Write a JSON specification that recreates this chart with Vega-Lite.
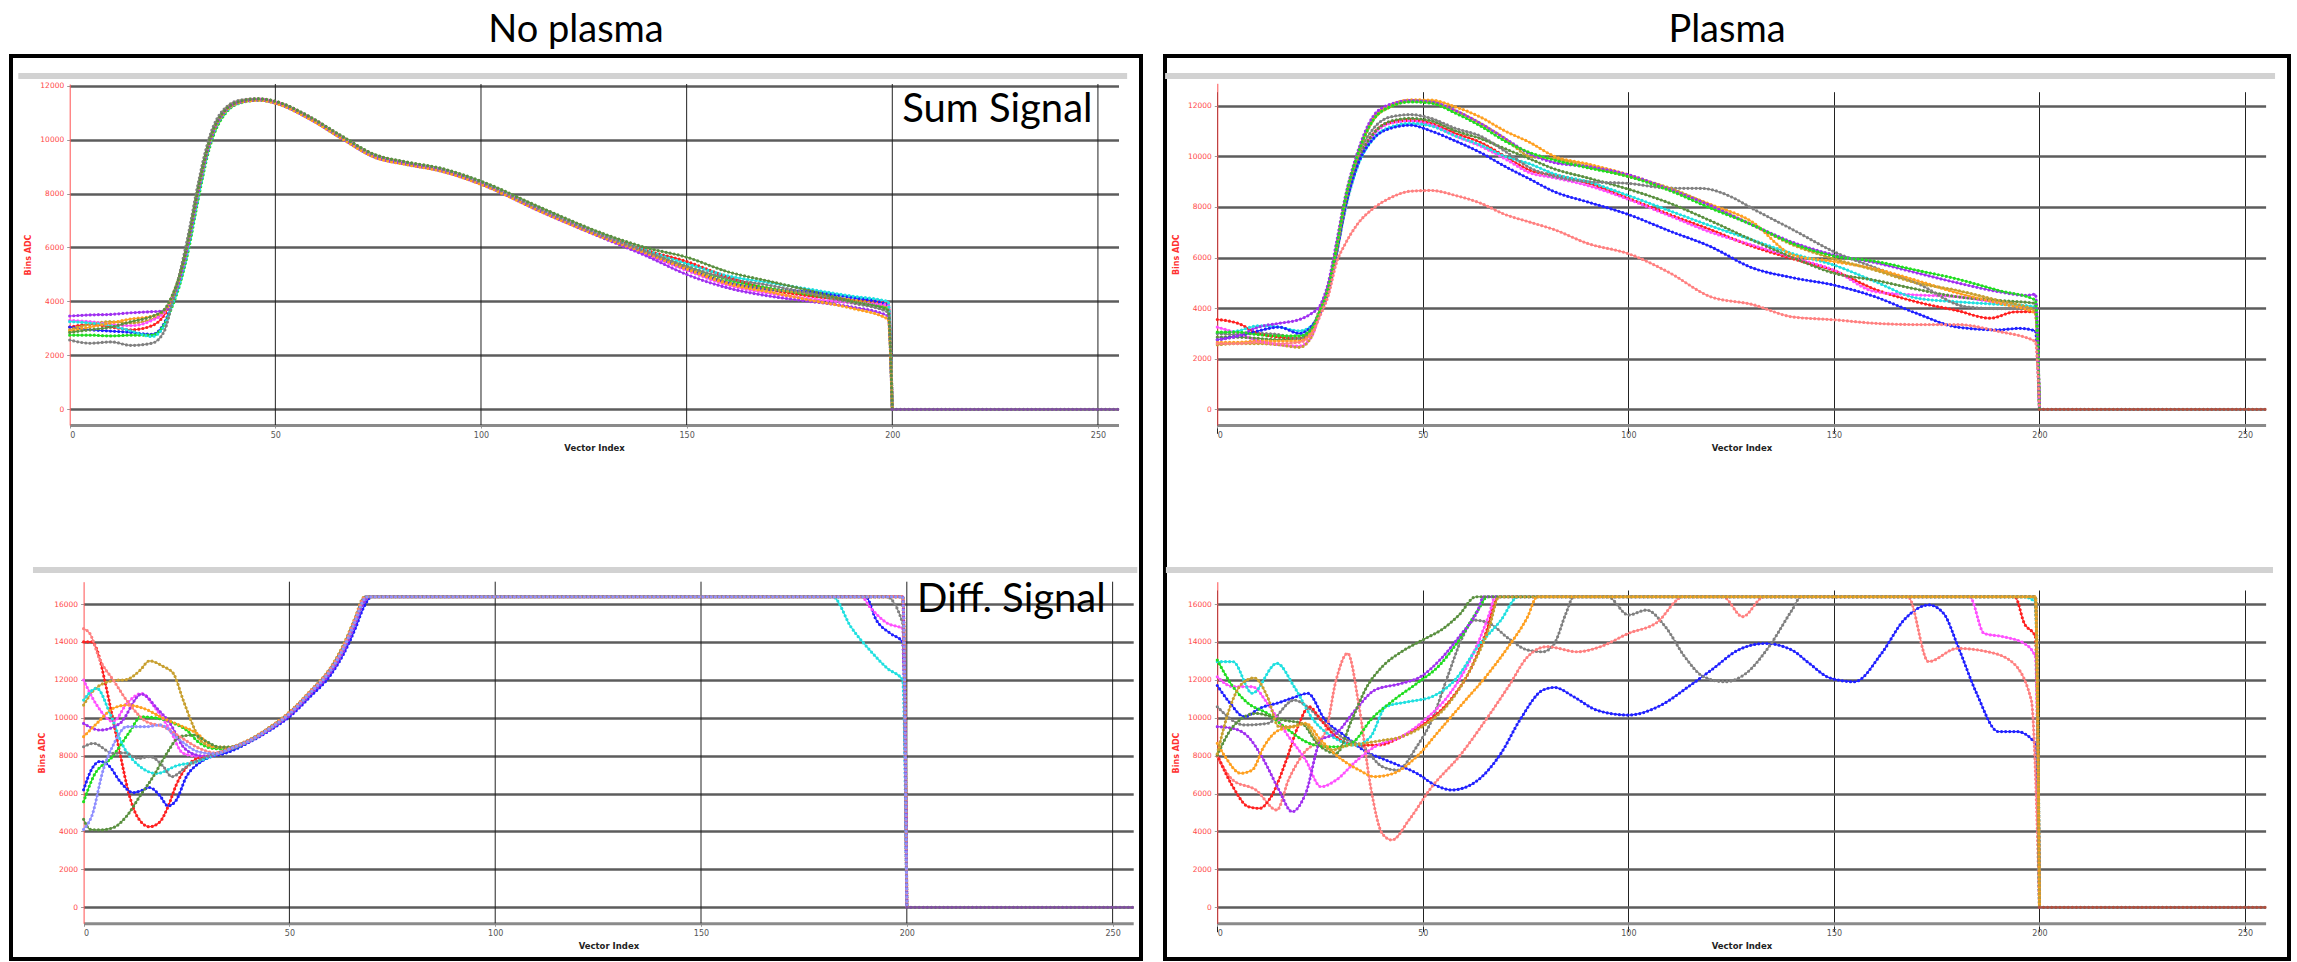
{
"$schema":"https://vega.github.io/schema/vega-lite/v6.json",
"background":"white",
"padding":{"left":9,"top":10,"right":4,"bottom":0},
"config":{"view":{"stroke":null},"font":"Lato","axis":{"labelFont":"DejaVu Sans","titleFont":"DejaVu Sans"}},
"datasets":{
"TL":[
{"s":"r","x":0,"y":3050},{"s":"r","x":5,"y":3150},{"s":"r","x":10,"y":3050},{"s":"r","x":15,"y":2950},{"s":"r","x":20,"y":3100},{"s":"r","x":23,"y":3500},{"s":"r","x":25,"y":4100},{"s":"r","x":27,"y":5000},{"s":"r","x":29,"y":6300},{"s":"r","x":31,"y":7900},{"s":"r","x":34,"y":9900},{"s":"r","x":38,"y":11100},{"s":"r","x":42,"y":11420},{"s":"r","x":46,"y":11480},{"s":"r","x":50,"y":11380},{"s":"r","x":58,"y":10830},{"s":"r","x":66,"y":10090},{"s":"r","x":74,"y":9400},{"s":"r","x":82,"y":9110},{"s":"r","x":90,"y":8890},{"s":"r","x":100,"y":8390},{"s":"r","x":115,"y":7370},{"s":"r","x":130,"y":6420},{"s":"r","x":140,"y":5900},{"s":"r","x":150,"y":5480},{"s":"r","x":160,"y":4900},{"s":"r","x":170,"y":4450},{"s":"r","x":180,"y":4200},{"s":"r","x":190,"y":4050},{"s":"r","x":199,"y":3930},{"s":"r","x":200,"y":0},
{"s":"b","x":0,"y":3050},{"s":"b","x":5,"y":2950},{"s":"b","x":10,"y":2900},{"s":"b","x":15,"y":2850},{"s":"b","x":20,"y":2780},{"s":"b","x":23,"y":3200},{"s":"b","x":25,"y":3950},{"s":"b","x":27,"y":4850},{"s":"b","x":29,"y":6150},{"s":"b","x":31,"y":7750},{"s":"b","x":34,"y":9800},{"s":"b","x":38,"y":11050},{"s":"b","x":42,"y":11400},{"s":"b","x":46,"y":11470},{"s":"b","x":50,"y":11370},{"s":"b","x":58,"y":10820},{"s":"b","x":66,"y":10080},{"s":"b","x":74,"y":9380},{"s":"b","x":82,"y":9100},{"s":"b","x":90,"y":8870},{"s":"b","x":100,"y":8370},{"s":"b","x":115,"y":7330},{"s":"b","x":130,"y":6380},{"s":"b","x":140,"y":5800},{"s":"b","x":150,"y":5200},{"s":"b","x":160,"y":4700},{"s":"b","x":170,"y":4450},{"s":"b","x":180,"y":4350},{"s":"b","x":190,"y":4150},{"s":"b","x":199,"y":3870},{"s":"b","x":200,"y":0},
{"s":"g","x":0,"y":2750},{"s":"g","x":5,"y":2750},{"s":"g","x":10,"y":2720},{"s":"g","x":15,"y":2750},{"s":"g","x":20,"y":2750},{"s":"g","x":23,"y":3150},{"s":"g","x":25,"y":3850},{"s":"g","x":27,"y":4750},{"s":"g","x":29,"y":6000},{"s":"g","x":31,"y":7600},{"s":"g","x":34,"y":9700},{"s":"g","x":38,"y":11000},{"s":"g","x":42,"y":11380},{"s":"g","x":46,"y":11460},{"s":"g","x":50,"y":11360},{"s":"g","x":58,"y":10810},{"s":"g","x":66,"y":10070},{"s":"g","x":74,"y":9370},{"s":"g","x":82,"y":9090},{"s":"g","x":90,"y":8860},{"s":"g","x":100,"y":8380},{"s":"g","x":115,"y":7350},{"s":"g","x":130,"y":6400},{"s":"g","x":140,"y":5850},{"s":"g","x":150,"y":5300},{"s":"g","x":160,"y":4800},{"s":"g","x":170,"y":4500},{"s":"g","x":180,"y":4250},{"s":"g","x":190,"y":4000},{"s":"g","x":199,"y":3740},{"s":"g","x":200,"y":0},
{"s":"o","x":0,"y":2950},{"s":"o","x":5,"y":3150},{"s":"o","x":10,"y":3250},{"s":"o","x":15,"y":3200},{"s":"o","x":20,"y":3350},{"s":"o","x":23,"y":3600},{"s":"o","x":25,"y":4200},{"s":"o","x":27,"y":5150},{"s":"o","x":29,"y":6450},{"s":"o","x":31,"y":8050},{"s":"o","x":34,"y":10000},{"s":"o","x":38,"y":11150},{"s":"o","x":42,"y":11450},{"s":"o","x":46,"y":11500},{"s":"o","x":50,"y":11400},{"s":"o","x":58,"y":10850},{"s":"o","x":66,"y":10110},{"s":"o","x":74,"y":9420},{"s":"o","x":82,"y":9130},{"s":"o","x":90,"y":8910},{"s":"o","x":100,"y":8410},{"s":"o","x":115,"y":7380},{"s":"o","x":130,"y":6430},{"s":"o","x":140,"y":5800},{"s":"o","x":150,"y":5250},{"s":"o","x":160,"y":4700},{"s":"o","x":170,"y":4450},{"s":"o","x":180,"y":4300},{"s":"o","x":190,"y":4050},{"s":"o","x":199,"y":3800},{"s":"o","x":200,"y":0},
{"s":"m","x":0,"y":3300},{"s":"m","x":5,"y":3250},{"s":"m","x":10,"y":3150},{"s":"m","x":15,"y":3100},{"s":"m","x":20,"y":3300},{"s":"m","x":23,"y":3600},{"s":"m","x":25,"y":4150},{"s":"m","x":27,"y":5050},{"s":"m","x":29,"y":6350},{"s":"m","x":31,"y":7950},{"s":"m","x":34,"y":9950},{"s":"m","x":38,"y":11100},{"s":"m","x":42,"y":11420},{"s":"m","x":46,"y":11490},{"s":"m","x":50,"y":11390},{"s":"m","x":58,"y":10840},{"s":"m","x":66,"y":10100},{"s":"m","x":74,"y":9400},{"s":"m","x":82,"y":9110},{"s":"m","x":90,"y":8890},{"s":"m","x":100,"y":8390},{"s":"m","x":115,"y":7350},{"s":"m","x":130,"y":6390},{"s":"m","x":140,"y":5750},{"s":"m","x":150,"y":5150},{"s":"m","x":160,"y":4600},{"s":"m","x":170,"y":4300},{"s":"m","x":180,"y":4100},{"s":"m","x":190,"y":3950},{"s":"m","x":199,"y":3870},{"s":"m","x":200,"y":0},
{"s":"c","x":0,"y":3250},{"s":"c","x":5,"y":3200},{"s":"c","x":10,"y":3100},{"s":"c","x":15,"y":2900},{"s":"c","x":20,"y":2700},{"s":"c","x":23,"y":3100},{"s":"c","x":25,"y":3900},{"s":"c","x":27,"y":4800},{"s":"c","x":29,"y":6100},{"s":"c","x":31,"y":7700},{"s":"c","x":34,"y":9800},{"s":"c","x":38,"y":11050},{"s":"c","x":42,"y":11400},{"s":"c","x":46,"y":11480},{"s":"c","x":50,"y":11380},{"s":"c","x":58,"y":10830},{"s":"c","x":66,"y":10100},{"s":"c","x":74,"y":9420},{"s":"c","x":82,"y":9140},{"s":"c","x":90,"y":8920},{"s":"c","x":100,"y":8430},{"s":"c","x":115,"y":7400},{"s":"c","x":130,"y":6450},{"s":"c","x":140,"y":5900},{"s":"c","x":150,"y":5400},{"s":"c","x":160,"y":4950},{"s":"c","x":170,"y":4700},{"s":"c","x":180,"y":4450},{"s":"c","x":190,"y":4200},{"s":"c","x":199,"y":3990},{"s":"c","x":200,"y":0},
{"s":"p","x":0,"y":3460},{"s":"p","x":5,"y":3500},{"s":"p","x":10,"y":3520},{"s":"p","x":15,"y":3580},{"s":"p","x":20,"y":3620},{"s":"p","x":23,"y":3650},{"s":"p","x":25,"y":4050},{"s":"p","x":27,"y":4950},{"s":"p","x":29,"y":6250},{"s":"p","x":31,"y":7850},{"s":"p","x":34,"y":9850},{"s":"p","x":38,"y":11080},{"s":"p","x":42,"y":11410},{"s":"p","x":46,"y":11470},{"s":"p","x":50,"y":11360},{"s":"p","x":58,"y":10800},{"s":"p","x":66,"y":10060},{"s":"p","x":74,"y":9360},{"s":"p","x":82,"y":9080},{"s":"p","x":90,"y":8850},{"s":"p","x":100,"y":8350},{"s":"p","x":115,"y":7300},{"s":"p","x":130,"y":6330},{"s":"p","x":140,"y":5700},{"s":"p","x":150,"y":5000},{"s":"p","x":160,"y":4500},{"s":"p","x":170,"y":4200},{"s":"p","x":180,"y":4000},{"s":"p","x":190,"y":3800},{"s":"p","x":199,"y":3460},{"s":"p","x":200,"y":0},
{"s":"a","x":0,"y":2900},{"s":"a","x":5,"y":3050},{"s":"a","x":10,"y":3200},{"s":"a","x":15,"y":3350},{"s":"a","x":20,"y":3450},{"s":"a","x":23,"y":3650},{"s":"a","x":25,"y":4150},{"s":"a","x":27,"y":5050},{"s":"a","x":29,"y":6350},{"s":"a","x":31,"y":7950},{"s":"a","x":34,"y":9900},{"s":"a","x":38,"y":11080},{"s":"a","x":42,"y":11400},{"s":"a","x":46,"y":11460},{"s":"a","x":50,"y":11350},{"s":"a","x":58,"y":10790},{"s":"a","x":66,"y":10050},{"s":"a","x":74,"y":9350},{"s":"a","x":82,"y":9070},{"s":"a","x":90,"y":8840},{"s":"a","x":100,"y":8340},{"s":"a","x":115,"y":7300},{"s":"a","x":130,"y":6350},{"s":"a","x":140,"y":5800},{"s":"a","x":150,"y":5200},{"s":"a","x":160,"y":4650},{"s":"a","x":170,"y":4350},{"s":"a","x":180,"y":4050},{"s":"a","x":190,"y":3750},{"s":"a","x":199,"y":3340},{"s":"a","x":200,"y":0},
{"s":"k","x":0,"y":2570},{"s":"k","x":5,"y":2450},{"s":"k","x":10,"y":2500},{"s":"k","x":15,"y":2370},{"s":"k","x":20,"y":2450},{"s":"k","x":23,"y":2900},{"s":"k","x":25,"y":4000},{"s":"k","x":27,"y":5200},{"s":"k","x":29,"y":6600},{"s":"k","x":31,"y":8200},{"s":"k","x":34,"y":10100},{"s":"k","x":38,"y":11200},{"s":"k","x":42,"y":11480},{"s":"k","x":46,"y":11520},{"s":"k","x":50,"y":11420},{"s":"k","x":58,"y":10870},{"s":"k","x":66,"y":10130},{"s":"k","x":74,"y":9440},{"s":"k","x":82,"y":9150},{"s":"k","x":90,"y":8930},{"s":"k","x":100,"y":8420},{"s":"k","x":115,"y":7380},{"s":"k","x":130,"y":6420},{"s":"k","x":140,"y":5850},{"s":"k","x":150,"y":5300},{"s":"k","x":160,"y":4850},{"s":"k","x":170,"y":4600},{"s":"k","x":180,"y":4300},{"s":"k","x":190,"y":3950},{"s":"k","x":199,"y":3600},{"s":"k","x":200,"y":0},
{"s":"d","x":0,"y":2850},{"s":"d","x":5,"y":2950},{"s":"d","x":10,"y":3050},{"s":"d","x":15,"y":3250},{"s":"d","x":20,"y":3450},{"s":"d","x":23,"y":3700},{"s":"d","x":25,"y":4250},{"s":"d","x":27,"y":5100},{"s":"d","x":29,"y":6400},{"s":"d","x":31,"y":8000},{"s":"d","x":34,"y":9950},{"s":"d","x":38,"y":11120},{"s":"d","x":42,"y":11440},{"s":"d","x":46,"y":11510},{"s":"d","x":50,"y":11420},{"s":"d","x":58,"y":10880},{"s":"d","x":66,"y":10150},{"s":"d","x":74,"y":9460},{"s":"d","x":82,"y":9170},{"s":"d","x":90,"y":8950},{"s":"d","x":100,"y":8460},{"s":"d","x":115,"y":7450},{"s":"d","x":130,"y":6500},{"s":"d","x":140,"y":6000},{"s":"d","x":150,"y":5640},{"s":"d","x":160,"y":5100},{"s":"d","x":170,"y":4750},{"s":"d","x":180,"y":4400},{"s":"d","x":190,"y":4000},{"s":"d","x":199,"y":3680},{"s":"d","x":200,"y":0},
{"s":"t1","x":200,"y":0},{"s":"t1","x":255,"y":0}
],
"TR":[
{"s":"r","x":0,"y":3550},{"s":"r","x":5,"y":3400},{"s":"r","x":10,"y":3000},{"s":"r","x":15,"y":2850},{"s":"r","x":20,"y":2800},{"s":"r","x":23,"y":3200},{"s":"r","x":25,"y":3850},{"s":"r","x":27,"y":4700},{"s":"r","x":29,"y":6200},{"s":"r","x":31,"y":7900},{"s":"r","x":34,"y":9700},{"s":"r","x":38,"y":10900},{"s":"r","x":42,"y":11330},{"s":"r","x":47,"y":11420},{"s":"r","x":52,"y":11300},{"s":"r","x":58,"y":10900},{"s":"r","x":64,"y":10550},{"s":"r","x":70,"y":10000},{"s":"r","x":76,"y":9450},{"s":"r","x":82,"y":9250},{"s":"r","x":90,"y":8950},{"s":"r","x":100,"y":8340},{"s":"r","x":110,"y":7700},{"s":"r","x":120,"y":7100},{"s":"r","x":130,"y":6450},{"s":"r","x":140,"y":5950},{"s":"r","x":150,"y":5480},{"s":"r","x":160,"y":4740},{"s":"r","x":170,"y":4250},{"s":"r","x":180,"y":3900},{"s":"r","x":188,"y":3600},{"s":"r","x":194,"y":3850},{"s":"r","x":199,"y":3860},{"s":"r","x":200,"y":0},
{"s":"m","x":0,"y":3250},{"s":"m","x":5,"y":3000},{"s":"m","x":10,"y":2700},{"s":"m","x":15,"y":2550},{"s":"m","x":20,"y":2500},{"s":"m","x":23,"y":2900},{"s":"m","x":25,"y":3800},{"s":"m","x":27,"y":4650},{"s":"m","x":29,"y":6150},{"s":"m","x":31,"y":7850},{"s":"m","x":34,"y":9650},{"s":"m","x":38,"y":10850},{"s":"m","x":42,"y":11300},{"s":"m","x":47,"y":11400},{"s":"m","x":52,"y":11250},{"s":"m","x":58,"y":10800},{"s":"m","x":64,"y":10400},{"s":"m","x":70,"y":9900},{"s":"m","x":76,"y":9350},{"s":"m","x":82,"y":9150},{"s":"m","x":90,"y":8850},{"s":"m","x":100,"y":8300},{"s":"m","x":110,"y":7650},{"s":"m","x":120,"y":7000},{"s":"m","x":130,"y":6500},{"s":"m","x":140,"y":6000},{"s":"m","x":150,"y":5500},{"s":"m","x":160,"y":4650},{"s":"m","x":170,"y":4520},{"s":"m","x":180,"y":4450},{"s":"m","x":190,"y":4200},{"s":"m","x":199,"y":3930},{"s":"m","x":200,"y":0},
{"s":"c","x":0,"y":3000},{"s":"c","x":5,"y":3100},{"s":"c","x":10,"y":3300},{"s":"c","x":15,"y":3250},{"s":"c","x":20,"y":3100},{"s":"c","x":23,"y":3300},{"s":"c","x":25,"y":3850},{"s":"c","x":27,"y":4700},{"s":"c","x":29,"y":6150},{"s":"c","x":31,"y":7800},{"s":"c","x":34,"y":9550},{"s":"c","x":38,"y":10700},{"s":"c","x":42,"y":11150},{"s":"c","x":47,"y":11300},{"s":"c","x":52,"y":11200},{"s":"c","x":58,"y":10800},{"s":"c","x":64,"y":10450},{"s":"c","x":70,"y":10000},{"s":"c","x":76,"y":9700},{"s":"c","x":82,"y":9300},{"s":"c","x":90,"y":9000},{"s":"c","x":100,"y":8450},{"s":"c","x":110,"y":7850},{"s":"c","x":120,"y":7250},{"s":"c","x":130,"y":6700},{"s":"c","x":140,"y":6150},{"s":"c","x":150,"y":5700},{"s":"c","x":160,"y":5050},{"s":"c","x":170,"y":4400},{"s":"c","x":180,"y":4250},{"s":"c","x":190,"y":4150},{"s":"c","x":199,"y":4060},{"s":"c","x":200,"y":0},
{"s":"d","x":0,"y":2850},{"s":"d","x":5,"y":2850},{"s":"d","x":10,"y":2800},{"s":"d","x":15,"y":2750},{"s":"d","x":20,"y":2800},{"s":"d","x":23,"y":3200},{"s":"d","x":25,"y":3850},{"s":"d","x":27,"y":4700},{"s":"d","x":29,"y":6200},{"s":"d","x":31,"y":7900},{"s":"d","x":34,"y":9700},{"s":"d","x":38,"y":10900},{"s":"d","x":42,"y":11380},{"s":"d","x":47,"y":11500},{"s":"d","x":52,"y":11400},{"s":"d","x":58,"y":11000},{"s":"d","x":64,"y":10700},{"s":"d","x":70,"y":10300},{"s":"d","x":76,"y":9900},{"s":"d","x":82,"y":9500},{"s":"d","x":90,"y":9150},{"s":"d","x":100,"y":8700},{"s":"d","x":110,"y":8150},{"s":"d","x":120,"y":7450},{"s":"d","x":130,"y":6700},{"s":"d","x":140,"y":6000},{"s":"d","x":150,"y":5380},{"s":"d","x":160,"y":5100},{"s":"d","x":170,"y":4750},{"s":"d","x":180,"y":4450},{"s":"d","x":190,"y":4300},{"s":"d","x":199,"y":4190},{"s":"d","x":200,"y":0},
{"s":"k","x":0,"y":3000},{"s":"k","x":5,"y":2950},{"s":"k","x":10,"y":3000},{"s":"k","x":15,"y":2950},{"s":"k","x":20,"y":2800},{"s":"k","x":23,"y":3200},{"s":"k","x":25,"y":4000},{"s":"k","x":27,"y":4900},{"s":"k","x":29,"y":6400},{"s":"k","x":31,"y":8100},{"s":"k","x":34,"y":9900},{"s":"k","x":38,"y":11100},{"s":"k","x":42,"y":11550},{"s":"k","x":47,"y":11650},{"s":"k","x":52,"y":11500},{"s":"k","x":58,"y":11100},{"s":"k","x":64,"y":10800},{"s":"k","x":70,"y":10200},{"s":"k","x":76,"y":9550},{"s":"k","x":82,"y":9200},{"s":"k","x":90,"y":9000},{"s":"k","x":100,"y":8930},{"s":"k","x":110,"y":8740},{"s":"k","x":118,"y":8730},{"s":"k","x":125,"y":8400},{"s":"k","x":130,"y":7950},{"s":"k","x":140,"y":7100},{"s":"k","x":150,"y":6230},{"s":"k","x":160,"y":5600},{"s":"k","x":170,"y":5000},{"s":"k","x":182,"y":4060},{"s":"k","x":190,"y":3980},{"s":"k","x":199,"y":3990},{"s":"k","x":200,"y":0},
{"s":"b","x":0,"y":2750},{"s":"b","x":5,"y":2900},{"s":"b","x":10,"y":3100},{"s":"b","x":15,"y":3250},{"s":"b","x":20,"y":3000},{"s":"b","x":23,"y":3300},{"s":"b","x":25,"y":3800},{"s":"b","x":27,"y":4700},{"s":"b","x":29,"y":6200},{"s":"b","x":31,"y":7900},{"s":"b","x":34,"y":9600},{"s":"b","x":38,"y":10700},{"s":"b","x":42,"y":11100},{"s":"b","x":47,"y":11230},{"s":"b","x":52,"y":11000},{"s":"b","x":58,"y":10600},{"s":"b","x":64,"y":10150},{"s":"b","x":70,"y":9600},{"s":"b","x":76,"y":9100},{"s":"b","x":82,"y":8600},{"s":"b","x":90,"y":8200},{"s":"b","x":100,"y":7700},{"s":"b","x":110,"y":7050},{"s":"b","x":120,"y":6430},{"s":"b","x":130,"y":5600},{"s":"b","x":140,"y":5200},{"s":"b","x":150,"y":4910},{"s":"b","x":160,"y":4450},{"s":"b","x":170,"y":3800},{"s":"b","x":180,"y":3250},{"s":"b","x":190,"y":3140},{"s":"b","x":195,"y":3200},{"s":"b","x":199,"y":3100},{"s":"b","x":200,"y":0},
{"s":"a","x":0,"y":2650},{"s":"a","x":5,"y":2650},{"s":"a","x":10,"y":2700},{"s":"a","x":15,"y":2700},{"s":"a","x":20,"y":2700},{"s":"a","x":23,"y":3100},{"s":"a","x":25,"y":3900},{"s":"a","x":27,"y":4800},{"s":"a","x":29,"y":6400},{"s":"a","x":31,"y":8200},{"s":"a","x":34,"y":10000},{"s":"a","x":38,"y":11500},{"s":"a","x":42,"y":12000},{"s":"a","x":47,"y":12230},{"s":"a","x":52,"y":12220},{"s":"a","x":58,"y":11950},{"s":"a","x":64,"y":11550},{"s":"a","x":70,"y":11000},{"s":"a","x":76,"y":10550},{"s":"a","x":82,"y":10000},{"s":"a","x":90,"y":9700},{"s":"a","x":100,"y":9270},{"s":"a","x":110,"y":8700},{"s":"a","x":120,"y":8100},{"s":"a","x":130,"y":7420},{"s":"a","x":140,"y":6100},{"s":"a","x":150,"y":5840},{"s":"a","x":160,"y":5550},{"s":"a","x":170,"y":5100},{"s":"a","x":180,"y":4600},{"s":"a","x":190,"y":4200},{"s":"a","x":199,"y":3800},{"s":"a","x":200,"y":0},
{"s":"o","x":0,"y":2550},{"s":"o","x":5,"y":2600},{"s":"o","x":10,"y":2600},{"s":"o","x":15,"y":2550},{"s":"o","x":20,"y":2450},{"s":"o","x":23,"y":2900},{"s":"o","x":25,"y":3900},{"s":"o","x":27,"y":4800},{"s":"o","x":29,"y":6400},{"s":"o","x":31,"y":8200},{"s":"o","x":34,"y":10000},{"s":"o","x":38,"y":11450},{"s":"o","x":42,"y":11950},{"s":"o","x":47,"y":12200},{"s":"o","x":52,"y":12150},{"s":"o","x":58,"y":11800},{"s":"o","x":64,"y":11300},{"s":"o","x":70,"y":10700},{"s":"o","x":76,"y":10000},{"s":"o","x":82,"y":9900},{"s":"o","x":90,"y":9600},{"s":"o","x":100,"y":9200},{"s":"o","x":110,"y":8750},{"s":"o","x":120,"y":8050},{"s":"o","x":130,"y":7300},{"s":"o","x":140,"y":6500},{"s":"o","x":150,"y":5950},{"s":"o","x":160,"y":5500},{"s":"o","x":170,"y":5000},{"s":"o","x":180,"y":4700},{"s":"o","x":190,"y":4300},{"s":"o","x":199,"y":3900},{"s":"o","x":200,"y":0},
{"s":"p","x":0,"y":2750},{"s":"p","x":5,"y":2900},{"s":"p","x":10,"y":3250},{"s":"p","x":15,"y":3400},{"s":"p","x":20,"y":3550},{"s":"p","x":23,"y":3800},{"s":"p","x":25,"y":4100},{"s":"p","x":27,"y":5000},{"s":"p","x":29,"y":6600},{"s":"p","x":31,"y":8300},{"s":"p","x":34,"y":10100},{"s":"p","x":38,"y":11600},{"s":"p","x":42,"y":12050},{"s":"p","x":47,"y":12200},{"s":"p","x":52,"y":12150},{"s":"p","x":58,"y":11800},{"s":"p","x":64,"y":11300},{"s":"p","x":70,"y":10700},{"s":"p","x":76,"y":10100},{"s":"p","x":82,"y":9750},{"s":"p","x":90,"y":9600},{"s":"p","x":100,"y":9270},{"s":"p","x":110,"y":8700},{"s":"p","x":120,"y":8050},{"s":"p","x":130,"y":7300},{"s":"p","x":140,"y":6600},{"s":"p","x":150,"y":6100},{"s":"p","x":160,"y":5800},{"s":"p","x":170,"y":5400},{"s":"p","x":180,"y":5000},{"s":"p","x":190,"y":4650},{"s":"p","x":197,"y":4500},{"s":"p","x":199,"y":4550},{"s":"p","x":200,"y":0},
{"s":"g","x":0,"y":3050},{"s":"g","x":5,"y":3050},{"s":"g","x":10,"y":2950},{"s":"g","x":15,"y":2900},{"s":"g","x":20,"y":2900},{"s":"g","x":23,"y":3200},{"s":"g","x":25,"y":3900},{"s":"g","x":27,"y":4800},{"s":"g","x":29,"y":6400},{"s":"g","x":31,"y":8200},{"s":"g","x":34,"y":10000},{"s":"g","x":38,"y":11450},{"s":"g","x":42,"y":11950},{"s":"g","x":47,"y":12150},{"s":"g","x":52,"y":12100},{"s":"g","x":58,"y":11700},{"s":"g","x":64,"y":11200},{"s":"g","x":70,"y":10600},{"s":"g","x":76,"y":10150},{"s":"g","x":82,"y":9850},{"s":"g","x":90,"y":9550},{"s":"g","x":100,"y":9200},{"s":"g","x":110,"y":8650},{"s":"g","x":120,"y":7950},{"s":"g","x":130,"y":7300},{"s":"g","x":140,"y":6550},{"s":"g","x":150,"y":6060},{"s":"g","x":160,"y":5850},{"s":"g","x":170,"y":5500},{"s":"g","x":180,"y":5150},{"s":"g","x":190,"y":4700},{"s":"g","x":199,"y":4320},{"s":"g","x":200,"y":0},
{"s":"s","x":0,"y":2600},{"s":"s","x":5,"y":2600},{"s":"s","x":10,"y":2650},{"s":"s","x":15,"y":2600},{"s":"s","x":20,"y":2650},{"s":"s","x":23,"y":3000},{"s":"s","x":25,"y":3700},{"s":"s","x":27,"y":4500},{"s":"s","x":29,"y":5800},{"s":"s","x":31,"y":6500},{"s":"s","x":34,"y":7300},{"s":"s","x":38,"y":7950},{"s":"s","x":42,"y":8350},{"s":"s","x":47,"y":8620},{"s":"s","x":52,"y":8650},{"s":"s","x":58,"y":8450},{"s":"s","x":64,"y":8150},{"s":"s","x":70,"y":7700},{"s":"s","x":76,"y":7400},{"s":"s","x":82,"y":7100},{"s":"s","x":90,"y":6560},{"s":"s","x":100,"y":6150},{"s":"s","x":110,"y":5400},{"s":"s","x":120,"y":4450},{"s":"s","x":130,"y":4150},{"s":"s","x":140,"y":3650},{"s":"s","x":150,"y":3540},{"s":"s","x":160,"y":3400},{"s":"s","x":170,"y":3350},{"s":"s","x":180,"y":3350},{"s":"s","x":190,"y":3080},{"s":"s","x":199,"y":2680},{"s":"s","x":200,"y":0},
{"s":"t2","x":200,"y":0},{"s":"t2","x":255,"y":0}
],
"BL":[
{"s":"r","x":0,"y":14000},{"s":"r","x":2,"y":14000},{"s":"r","x":4,"y":13050},{"s":"r","x":5,"y":12100},{"s":"r","x":7,"y":10050},{"s":"r","x":9,"y":7950},{"s":"r","x":11,"y":6000},{"s":"r","x":13,"y":4800},{"s":"r","x":16,"y":4250},{"s":"r","x":18.5,"y":4500},{"s":"r","x":20.5,"y":5300},{"s":"r","x":22.5,"y":6450},{"s":"r","x":25,"y":7400},{"s":"r","x":27.5,"y":7850},{"s":"r","x":30,"y":7970},{"s":"r","x":33,"y":8150},{"s":"r","x":36,"y":8400},{"s":"r","x":40,"y":8750},{"s":"r","x":45,"y":9400},{"s":"r","x":50,"y":10200},{"s":"r","x":55,"y":11300},{"s":"r","x":60,"y":12500},{"s":"r","x":63,"y":13600},{"s":"r","x":66,"y":15100},{"s":"r","x":68,"y":16200},{"s":"r","x":69,"y":16383},{"s":"r","x":199,"y":16383},{"s":"r","x":200,"y":0},
{"s":"b","x":0,"y":6200},{"s":"b","x":2,"y":7300},{"s":"b","x":4,"y":7700},{"s":"b","x":6,"y":7500},{"s":"b","x":9,"y":6600},{"s":"b","x":12,"y":6050},{"s":"b","x":14,"y":6150},{"s":"b","x":16,"y":6320},{"s":"b","x":18.5,"y":5900},{"s":"b","x":20.5,"y":5350},{"s":"b","x":22.5,"y":5650},{"s":"b","x":25,"y":6900},{"s":"b","x":28,"y":7600},{"s":"b","x":31,"y":7950},{"s":"b","x":34,"y":8100},{"s":"b","x":37,"y":8350},{"s":"b","x":40,"y":8680},{"s":"b","x":45,"y":9300},{"s":"b","x":50,"y":10050},{"s":"b","x":55,"y":11100},{"s":"b","x":60,"y":12250},{"s":"b","x":63,"y":13300},{"s":"b","x":66,"y":14700},{"s":"b","x":68,"y":15800},{"s":"b","x":70,"y":16383},{"s":"b","x":190,"y":16383},{"s":"b","x":192.6,"y":15150},{"s":"b","x":196,"y":14450},{"s":"b","x":199,"y":14000},{"s":"b","x":200,"y":0},
{"s":"g","x":0,"y":5570},{"s":"g","x":2.4,"y":6900},{"s":"g","x":7,"y":7950},{"s":"g","x":11,"y":9200},{"s":"g","x":14,"y":10050},{"s":"g","x":18,"y":9970},{"s":"g","x":22,"y":9700},{"s":"g","x":25,"y":9350},{"s":"g","x":28,"y":8700},{"s":"g","x":31.5,"y":8380},{"s":"g","x":35,"y":8350},{"s":"g","x":40,"y":8750},{"s":"g","x":45,"y":9420},{"s":"g","x":50,"y":10230},{"s":"g","x":55,"y":11330},{"s":"g","x":60,"y":12550},{"s":"g","x":63,"y":13650},{"s":"g","x":66,"y":15150},{"s":"g","x":68,"y":16250},{"s":"g","x":69,"y":16383},{"s":"g","x":199,"y":16383},{"s":"g","x":200,"y":0},
{"s":"o","x":0,"y":10670},{"s":"o","x":2.5,"y":11460},{"s":"o","x":7,"y":11950},{"s":"o","x":10.5,"y":12020},{"s":"o","x":13.7,"y":12500},{"s":"o","x":16,"y":13000},{"s":"o","x":19.4,"y":12700},{"s":"o","x":21.8,"y":12340},{"s":"o","x":24.2,"y":10930},{"s":"o","x":26.7,"y":9530},{"s":"o","x":28.3,"y":8820},{"s":"o","x":31.5,"y":8470},{"s":"o","x":35,"y":8450},{"s":"o","x":40,"y":8820},{"s":"o","x":45,"y":9480},{"s":"o","x":50,"y":10300},{"s":"o","x":55,"y":11400},{"s":"o","x":60,"y":12650},{"s":"o","x":63,"y":13800},{"s":"o","x":66,"y":15300},{"s":"o","x":68,"y":16350},{"s":"o","x":68.5,"y":16383},{"s":"o","x":199,"y":16383},{"s":"o","x":200,"y":0},
{"s":"m","x":0,"y":11990},{"s":"m","x":3.2,"y":10670},{"s":"m","x":7.2,"y":9800},{"s":"m","x":10.5,"y":10750},{"s":"m","x":14,"y":11280},{"s":"m","x":17.8,"y":10400},{"s":"m","x":21,"y":9350},{"s":"m","x":24.2,"y":8120},{"s":"m","x":27.5,"y":7980},{"s":"m","x":30,"y":7990},{"s":"m","x":33,"y":8150},{"s":"m","x":36,"y":8400},{"s":"m","x":40,"y":8750},{"s":"m","x":45,"y":9400},{"s":"m","x":50,"y":10200},{"s":"m","x":55,"y":11300},{"s":"m","x":60,"y":12500},{"s":"m","x":63,"y":13600},{"s":"m","x":66,"y":15100},{"s":"m","x":68,"y":16200},{"s":"m","x":69,"y":16383},{"s":"m","x":189,"y":16383},{"s":"m","x":191,"y":15850},{"s":"m","x":195.3,"y":14980},{"s":"m","x":199,"y":14700},{"s":"m","x":200,"y":0},
{"s":"c","x":0,"y":10930},{"s":"c","x":3.2,"y":11550},{"s":"c","x":6.4,"y":10230},{"s":"c","x":9.7,"y":8470},{"s":"c","x":13.3,"y":7500},{"s":"c","x":17.8,"y":7060},{"s":"c","x":22.6,"y":7470},{"s":"c","x":27.5,"y":7680},{"s":"c","x":32,"y":8050},{"s":"c","x":36,"y":8380},{"s":"c","x":40,"y":8730},{"s":"c","x":45,"y":9380},{"s":"c","x":50,"y":10180},{"s":"c","x":55,"y":11280},{"s":"c","x":60,"y":12480},{"s":"c","x":63,"y":13580},{"s":"c","x":66,"y":15080},{"s":"c","x":68,"y":16180},{"s":"c","x":69,"y":16383},{"s":"c","x":182,"y":16383},{"s":"c","x":186.4,"y":14800},{"s":"c","x":191.7,"y":13400},{"s":"c","x":195.3,"y":12600},{"s":"c","x":199,"y":11990},{"s":"c","x":200,"y":0},
{"s":"p","x":0,"y":9700},{"s":"p","x":4,"y":9350},{"s":"p","x":8.8,"y":9700},{"s":"p","x":14.1,"y":11250},{"s":"p","x":17.8,"y":10500},{"s":"p","x":21,"y":9700},{"s":"p","x":24.2,"y":8470},{"s":"p","x":27.5,"y":8030},{"s":"p","x":30,"y":7960},{"s":"p","x":33,"y":8130},{"s":"p","x":36,"y":8380},{"s":"p","x":40,"y":8720},{"s":"p","x":45,"y":9350},{"s":"p","x":50,"y":10120},{"s":"p","x":55,"y":11200},{"s":"p","x":60,"y":12380},{"s":"p","x":63,"y":13450},{"s":"p","x":66,"y":14950},{"s":"p","x":68,"y":16050},{"s":"p","x":69.5,"y":16383},{"s":"p","x":199,"y":16383},{"s":"p","x":200,"y":0},
{"s":"a","x":0,"y":9000},{"s":"a","x":3.2,"y":9700},{"s":"a","x":7.2,"y":10500},{"s":"a","x":10.5,"y":10670},{"s":"a","x":14.5,"y":10500},{"s":"a","x":19.4,"y":9970},{"s":"a","x":23.4,"y":9600},{"s":"a","x":27.5,"y":9180},{"s":"a","x":31.5,"y":8470},{"s":"a","x":35,"y":8420},{"s":"a","x":40,"y":8800},{"s":"a","x":45,"y":9450},{"s":"a","x":50,"y":10280},{"s":"a","x":55,"y":11380},{"s":"a","x":60,"y":12600},{"s":"a","x":63,"y":13700},{"s":"a","x":66,"y":15250},{"s":"a","x":68,"y":16300},{"s":"a","x":68.5,"y":16383},{"s":"a","x":199,"y":16383},{"s":"a","x":200,"y":0},
{"s":"k","x":0,"y":8470},{"s":"k","x":2.4,"y":8650},{"s":"k","x":7.2,"y":8120},{"s":"k","x":10,"y":8150},{"s":"k","x":13.3,"y":7860},{"s":"k","x":16.1,"y":7950},{"s":"k","x":19.4,"y":7420},{"s":"k","x":21.4,"y":6890},{"s":"k","x":25,"y":7420},{"s":"k","x":29.9,"y":7950},{"s":"k","x":33,"y":8170},{"s":"k","x":36,"y":8420},{"s":"k","x":40,"y":8780},{"s":"k","x":45,"y":9430},{"s":"k","x":50,"y":10250},{"s":"k","x":55,"y":11350},{"s":"k","x":60,"y":12580},{"s":"k","x":63,"y":13680},{"s":"k","x":66,"y":15200},{"s":"k","x":68,"y":16280},{"s":"k","x":68.5,"y":16383},{"s":"k","x":195,"y":16383},{"s":"k","x":199,"y":14980},{"s":"k","x":200,"y":0},
{"s":"d","x":0,"y":4640},{"s":"d","x":1.6,"y":4110},{"s":"d","x":4,"y":4080},{"s":"d","x":7.2,"y":4200},{"s":"d","x":10.5,"y":4820},{"s":"d","x":13.7,"y":5870},{"s":"d","x":16.9,"y":6890},{"s":"d","x":20.2,"y":8120},{"s":"d","x":23.4,"y":9000},{"s":"d","x":26.7,"y":9090},{"s":"d","x":29.9,"y":8740},{"s":"d","x":33,"y":8450},{"s":"d","x":36,"y":8450},{"s":"d","x":40,"y":8770},{"s":"d","x":45,"y":9420},{"s":"d","x":50,"y":10220},{"s":"d","x":55,"y":11320},{"s":"d","x":60,"y":12530},{"s":"d","x":63,"y":13630},{"s":"d","x":66,"y":15130},{"s":"d","x":68,"y":16230},{"s":"d","x":69,"y":16383},{"s":"d","x":199,"y":16383},{"s":"d","x":200,"y":0},
{"s":"s","x":0,"y":14700},{"s":"s","x":1.5,"y":14450},{"s":"s","x":4,"y":13040},{"s":"s","x":7.2,"y":11990},{"s":"s","x":11.3,"y":10670},{"s":"s","x":15.3,"y":9790},{"s":"s","x":19.4,"y":9530},{"s":"s","x":23.4,"y":9000},{"s":"s","x":28,"y":8400},{"s":"s","x":32,"y":8150},{"s":"s","x":36,"y":8420},{"s":"s","x":40,"y":8780},{"s":"s","x":45,"y":9430},{"s":"s","x":50,"y":10250},{"s":"s","x":55,"y":11350},{"s":"s","x":60,"y":12580},{"s":"s","x":63,"y":13680},{"s":"s","x":66,"y":15200},{"s":"s","x":68,"y":16280},{"s":"s","x":68.5,"y":16383},{"s":"s","x":199,"y":16383},{"s":"s","x":200,"y":0},
{"s":"l","x":0,"y":4110},{"s":"l","x":2,"y":4820},{"s":"l","x":4.8,"y":7280},{"s":"l","x":7.2,"y":8560},{"s":"l","x":10.5,"y":9530},{"s":"l","x":15.3,"y":9530},{"s":"l","x":18.6,"y":9620},{"s":"l","x":23.4,"y":8820},{"s":"l","x":28,"y":8200},{"s":"l","x":32,"y":8100},{"s":"l","x":36,"y":8400},{"s":"l","x":40,"y":8750},{"s":"l","x":45,"y":9400},{"s":"l","x":50,"y":10200},{"s":"l","x":55,"y":11300},{"s":"l","x":60,"y":12500},{"s":"l","x":63,"y":13600},{"s":"l","x":66,"y":15100},{"s":"l","x":68,"y":16200},{"s":"l","x":69,"y":16383},{"s":"l","x":199,"y":16383},{"s":"l","x":200,"y":0},
{"s":"t1","x":200,"y":0},{"s":"t1","x":255,"y":0}
],
"BR":[
{"s":"b","x":0,"y":11700},{"s":"b","x":3,"y":10800},{"s":"b","x":6.6,"y":10050},{"s":"b","x":10.3,"y":10500},{"s":"b","x":15,"y":10800},{"s":"b","x":19,"y":11100},{"s":"b","x":22,"y":11290},{"s":"b","x":26.2,"y":9880},{"s":"b","x":30.8,"y":9090},{"s":"b","x":35.5,"y":8300},{"s":"b","x":42,"y":7680},{"s":"b","x":48.5,"y":7070},{"s":"b","x":53,"y":6450},{"s":"b","x":57,"y":6190},{"s":"b","x":60,"y":6300},{"s":"b","x":63.4,"y":6710},{"s":"b","x":69,"y":8120},{"s":"b","x":73.6,"y":9880},{"s":"b","x":79.2,"y":11460},{"s":"b","x":82,"y":11600},{"s":"b","x":86.7,"y":11110},{"s":"b","x":92.3,"y":10400},{"s":"b","x":100,"y":10140},{"s":"b","x":108,"y":10670},{"s":"b","x":114.6,"y":11640},{"s":"b","x":120.2,"y":12520},{"s":"b","x":126.7,"y":13570},{"s":"b","x":133.2,"y":13920},{"s":"b","x":139.8,"y":13570},{"s":"b","x":144,"y":12870},{"s":"b","x":149,"y":12100},{"s":"b","x":155,"y":11900},{"s":"b","x":161.6,"y":13400},{"s":"b","x":167,"y":15150},{"s":"b","x":173.1,"y":15950},{"s":"b","x":176.7,"y":15500},{"s":"b","x":180.2,"y":13750},{"s":"b","x":184.7,"y":11290},{"s":"b","x":190,"y":9270},{"s":"b","x":194.5,"y":9270},{"s":"b","x":199,"y":8650},{"s":"b","x":200,"y":0},
{"s":"k","x":0,"y":10580},{"s":"k","x":6.6,"y":9620},{"s":"k","x":12.2,"y":9700},{"s":"k","x":18.7,"y":10930},{"s":"k","x":22.4,"y":10490},{"s":"k","x":26.2,"y":9700},{"s":"k","x":30.8,"y":8910},{"s":"k","x":35.5,"y":8470},{"s":"k","x":40.1,"y":7420},{"s":"k","x":43.8,"y":7240},{"s":"k","x":48.5,"y":8470},{"s":"k","x":52.2,"y":9880},{"s":"k","x":56,"y":12160},{"s":"k","x":59.7,"y":14270},{"s":"k","x":62.5,"y":15150},{"s":"k","x":66.2,"y":14980},{"s":"k","x":70.8,"y":14190},{"s":"k","x":75.5,"y":13570},{"s":"k","x":79.2,"y":13480},{"s":"k","x":82,"y":13920},{"s":"k","x":84.8,"y":15500},{"s":"k","x":86.7,"y":16383},{"s":"k","x":95,"y":16383},{"s":"k","x":100,"y":15420},{"s":"k","x":104.4,"y":15680},{"s":"k","x":109,"y":14800},{"s":"k","x":113.7,"y":13220},{"s":"k","x":118.3,"y":12160},{"s":"k","x":123.5,"y":11900},{"s":"k","x":128.6,"y":12340},{"s":"k","x":134.2,"y":13750},{"s":"k","x":139.8,"y":15680},{"s":"k","x":142,"y":16383},{"s":"k","x":199,"y":16383},{"s":"k","x":200,"y":0},
{"s":"s","x":0,"y":7950},{"s":"s","x":3.8,"y":6710},{"s":"s","x":9.4,"y":6190},{"s":"s","x":14.5,"y":5130},{"s":"s","x":17.3,"y":6710},{"s":"s","x":21,"y":8120},{"s":"s","x":26.2,"y":9180},{"s":"s","x":28.9,"y":11990},{"s":"s","x":31.7,"y":13400},{"s":"s","x":34.5,"y":10580},{"s":"s","x":37.3,"y":6360},{"s":"s","x":40.1,"y":3900},{"s":"s","x":42.5,"y":3550},{"s":"s","x":46.6,"y":4600},{"s":"s","x":52.2,"y":6360},{"s":"s","x":58.8,"y":7950},{"s":"s","x":65.3,"y":9880},{"s":"s","x":70.8,"y":11640},{"s":"s","x":75.5,"y":13220},{"s":"s","x":80.2,"y":13750},{"s":"s","x":87.6,"y":13480},{"s":"s","x":93.2,"y":13750},{"s":"s","x":100,"y":14450},{"s":"s","x":107.2,"y":15070},{"s":"s","x":111.8,"y":16210},{"s":"s","x":113,"y":16383},{"s":"s","x":123,"y":16383},{"s":"s","x":127.8,"y":15330},{"s":"s","x":133,"y":16383},{"s":"s","x":168,"y":16383},{"s":"s","x":173,"y":12960},{"s":"s","x":180,"y":13660},{"s":"s","x":187,"y":13500},{"s":"s","x":193,"y":13000},{"s":"s","x":198,"y":10940},{"s":"s","x":200,"y":0},
{"s":"r","x":0,"y":8030},{"s":"r","x":3.8,"y":6360},{"s":"r","x":7.5,"y":5310},{"s":"r","x":10.3,"y":5220},{"s":"r","x":13.1,"y":5840},{"s":"r","x":16.8,"y":7770},{"s":"r","x":19.6,"y":9530},{"s":"r","x":22.4,"y":10580},{"s":"r","x":25.2,"y":9880},{"s":"r","x":28.9,"y":9000},{"s":"r","x":33.6,"y":8560},{"s":"r","x":39.2,"y":8560},{"s":"r","x":44.8,"y":9000},{"s":"r","x":50.4,"y":9700},{"s":"r","x":56,"y":10760},{"s":"r","x":61.5,"y":12520},{"s":"r","x":65.3,"y":14450},{"s":"r","x":68.5,"y":16383},{"s":"r","x":194,"y":16383},{"s":"r","x":196.3,"y":14980},{"s":"r","x":199,"y":14280},{"s":"r","x":200,"y":0},
{"s":"m","x":0,"y":12160},{"s":"m","x":3.8,"y":11640},{"s":"m","x":8.5,"y":11640},{"s":"m","x":12.2,"y":10760},{"s":"m","x":16.8,"y":9180},{"s":"m","x":21.5,"y":7770},{"s":"m","x":25.2,"y":6360},{"s":"m","x":28.9,"y":6710},{"s":"m","x":33.6,"y":7680},{"s":"m","x":38.3,"y":8470},{"s":"m","x":44.8,"y":9000},{"s":"m","x":50.4,"y":9880},{"s":"m","x":56,"y":11110},{"s":"m","x":61.5,"y":13040},{"s":"m","x":66.2,"y":15500},{"s":"m","x":67.6,"y":16383},{"s":"m","x":183,"y":16383},{"s":"m","x":186.5,"y":14450},{"s":"m","x":191,"y":14280},{"s":"m","x":196.3,"y":13920},{"s":"m","x":199,"y":13220},{"s":"m","x":200,"y":0},
{"s":"c","x":0,"y":12960},{"s":"c","x":3.8,"y":12960},{"s":"c","x":8.5,"y":11290},{"s":"c","x":14.5,"y":12870},{"s":"c","x":18.7,"y":11640},{"s":"c","x":23.4,"y":9880},{"s":"c","x":28,"y":9000},{"s":"c","x":33.6,"y":8560},{"s":"c","x":37.3,"y":9000},{"s":"c","x":41,"y":10580},{"s":"c","x":46.6,"y":10850},{"s":"c","x":52.2,"y":11110},{"s":"c","x":57.8,"y":11990},{"s":"c","x":63.4,"y":13750},{"s":"c","x":69,"y":15150},{"s":"c","x":73.2,"y":16383},{"s":"c","x":196,"y":16383},{"s":"c","x":199,"y":16100},{"s":"c","x":200,"y":0},
{"s":"g","x":0,"y":13040},{"s":"g","x":3.8,"y":11640},{"s":"g","x":7.5,"y":10760},{"s":"g","x":12.2,"y":10230},{"s":"g","x":16.8,"y":9440},{"s":"g","x":21.5,"y":8740},{"s":"g","x":26.2,"y":8470},{"s":"g","x":29.9,"y":8470},{"s":"g","x":33.6,"y":8820},{"s":"g","x":37.3,"y":9880},{"s":"g","x":42.9,"y":10930},{"s":"g","x":48.5,"y":11810},{"s":"g","x":54.1,"y":12780},{"s":"g","x":58.8,"y":14100},{"s":"g","x":63.4,"y":15680},{"s":"g","x":65.7,"y":16383},{"s":"g","x":199,"y":16383},{"s":"g","x":200,"y":0},
{"s":"p","x":0,"y":9530},{"s":"p","x":3.8,"y":9440},{"s":"p","x":7.5,"y":9000},{"s":"p","x":11.3,"y":7770},{"s":"p","x":15,"y":6190},{"s":"p","x":18.2,"y":5040},{"s":"p","x":21.5,"y":6010},{"s":"p","x":25.2,"y":8820},{"s":"p","x":28.9,"y":9180},{"s":"p","x":33.6,"y":10410},{"s":"p","x":38.3,"y":11460},{"s":"p","x":44.8,"y":11810},{"s":"p","x":49.4,"y":12160},{"s":"p","x":54.1,"y":13040},{"s":"p","x":58.8,"y":14270},{"s":"p","x":63.4,"y":15680},{"s":"p","x":64.8,"y":16383},{"s":"p","x":199,"y":16383},{"s":"p","x":200,"y":0},
{"s":"d","x":0,"y":8030},{"s":"d","x":3.8,"y":9530},{"s":"d","x":9.4,"y":10230},{"s":"d","x":15.9,"y":9880},{"s":"d","x":20.6,"y":9700},{"s":"d","x":24.3,"y":8650},{"s":"d","x":28.9,"y":8120},{"s":"d","x":32.7,"y":9880},{"s":"d","x":36.4,"y":11640},{"s":"d","x":40.1,"y":12690},{"s":"d","x":44.8,"y":13480},{"s":"d","x":49.9,"y":14100},{"s":"d","x":55,"y":14710},{"s":"d","x":58.8,"y":15420},{"s":"d","x":62.9,"y":16383},{"s":"d","x":199,"y":16383},{"s":"d","x":200,"y":0},
{"s":"a","x":0,"y":8650},{"s":"a","x":1.9,"y":7950},{"s":"a","x":5.7,"y":7070},{"s":"a","x":8.5,"y":7240},{"s":"a","x":11.3,"y":8470},{"s":"a","x":15,"y":9350},{"s":"a","x":18.7,"y":9530},{"s":"a","x":21.5,"y":9700},{"s":"a","x":25.2,"y":8820},{"s":"a","x":29.9,"y":7860},{"s":"a","x":34.5,"y":7240},{"s":"a","x":38.3,"y":6890},{"s":"a","x":42.9,"y":7070},{"s":"a","x":48.5,"y":7950},{"s":"a","x":54.1,"y":9350},{"s":"a","x":59.7,"y":10760},{"s":"a","x":65.3,"y":12160},{"s":"a","x":70.8,"y":13750},{"s":"a","x":75.5,"y":15330},{"s":"a","x":77.8,"y":16383},{"s":"a","x":199,"y":16383},{"s":"a","x":200,"y":0},
{"s":"o","x":0,"y":8100},{"s":"o","x":3,"y":10500},{"s":"o","x":6,"y":11800},{"s":"o","x":9,"y":12100},{"s":"o","x":12.2,"y":11110},{"s":"o","x":15,"y":9530},{"s":"o","x":17.8,"y":9530},{"s":"o","x":21,"y":9700},{"s":"o","x":24.3,"y":8820},{"s":"o","x":28,"y":8300},{"s":"o","x":31,"y":8500},{"s":"o","x":35.5,"y":8650},{"s":"o","x":40,"y":8800},{"s":"o","x":44.8,"y":9000},{"s":"o","x":50,"y":9550},{"s":"o","x":56,"y":10670},{"s":"o","x":61.5,"y":12520},{"s":"o","x":66.2,"y":14800},{"s":"o","x":68.5,"y":16383},{"s":"o","x":199,"y":16383},{"s":"o","x":200,"y":0},
{"s":"t2","x":200,"y":0},{"s":"t2","x":255,"y":0}
]
},
"hconcat":[
{
"title":{"text":"No plasma","fontSize":38,"font":"Lato","fontWeight":"normal","color":"black","anchor":"middle","offset":6},
"width":1130,"height":903,
"view":{"stroke":"black","strokeWidth":4},
"resolve":{"scale":{"x":"independent","y":"independent"},"axis":{"x":"independent","y":"independent"}},
"layer":[
{"data":{"name":"TL"},
"encoding":{
"x":{"field":"x","type":"quantitative","title":"Vector Index","scale":{"domain":[0,255],"range":[58.7,1107.5],"nice":false,"zero":false},"axis":{"orient":"bottom","offset":-534,"title":"Vector Index","values":[0,50,100,150,200,250],"format":"d","grid":false,"labelColor":"#555","labelFontSize":8,"titleFontSize":8.5,"titleFontWeight":"bold","titleColor":"#222","titlePadding":4,"labelPadding":3,"domainColor":"#8a8a8a","domainWidth":3,"tickColor":"#999","tickSize":3}},
"y":{"field":"y","type":"quantitative","title":"Bins ADC","scale":{"domain":[-582,12062],"range":[369,28],"nice":false,"zero":false},"axis":{"orient":"left","offset":-58.7,"title":"Bins ADC","values":[0,2000,4000,6000,8000,10000,12000],"format":"d","grid":true,"gridColor":"#5c5c5c","gridWidth":2.5,"labelColor":"#ff4848","labelFontSize":7.5,"titleFontSize":8,"titleFontWeight":"bold","titleColor":"#ff3030","titlePadding":7,"labelPadding":3,"domainColor":"#ff5050","domainWidth":1,"tickColor":"#999","tickSize":3}}
},
"layer":[
{"transform":[{"filter":"datum.s == 't1' && datum.x == 255"}],"mark":{"type":"rule","stroke":"#222","strokeWidth":1},"encoding":{"x":{"datum":50},"y":{"datum":-582},"y2":{"datum":12062}}},
{"transform":[{"filter":"datum.s == 't1' && datum.x == 255"}],"mark":{"type":"rule","stroke":"#222","strokeWidth":1},"encoding":{"x":{"datum":100},"y":{"datum":-582},"y2":{"datum":12062}}},
{"transform":[{"filter":"datum.s == 't1' && datum.x == 255"}],"mark":{"type":"rule","stroke":"#222","strokeWidth":1},"encoding":{"x":{"datum":150},"y":{"datum":-582},"y2":{"datum":12062}}},
{"transform":[{"filter":"datum.s == 't1' && datum.x == 255"}],"mark":{"type":"rule","stroke":"#222","strokeWidth":1},"encoding":{"x":{"datum":200},"y":{"datum":-582},"y2":{"datum":12062}}},
{"transform":[{"filter":"datum.s == 't1' && datum.x == 255"}],"mark":{"type":"rule","stroke":"#222","strokeWidth":1},"encoding":{"x":{"datum":250},"y":{"datum":-582},"y2":{"datum":12062}}},
{"mark":{"type":"line","interpolate":"monotone","strokeWidth":1.2},"encoding":{"color":{"field":"s","type":"nominal","legend":null,"scale":{"domain":["r","b","g","o","m","c","p","a","k","d","s","l","t1","t2"],"range":["#ff2020","#2020ff","#20dd20","#c8a030","#ff50ff","#20e0e0","#a030f0","#ffa020","#808080","#5a9040","#ff8080","#9090ff","#8050a0","#b05040"]}},"opacity":{"field":"s","type":"nominal","legend":null,"scale":{"domain":["r","b","g","o","m","c","p","a","k","d","s","l","t1","t2"],"range":[1,1,1,1,1,1,1,1,1,1,0.42,0.4,1,1]}}}},
{"mark":{"type":"line","interpolate":"monotone","strokeWidth":3.2,"strokeDash":[0,4.1],"strokeCap":"round"},"encoding":{"color":{"field":"s","type":"nominal","legend":null,"scale":{"domain":["r","b","g","o","m","c","p","a","k","d","s","l","t1","t2"],"range":["#ff2020","#2020ff","#20dd20","#c8a030","#ff50ff","#20e0e0","#a030f0","#ffa020","#808080","#5a9040","#ff8080","#9090ff","#8050a0","#b05040"]}},"opacity":{"field":"s","type":"nominal","legend":null,"scale":{"domain":["r","b","g","o","m","c","p","a","k","d","s","l","t1","t2"],"range":[1,1,1,1,1,1,1,1,1,1,0.42,0.4,1,1]}}}},
{"transform":[{"filter":"datum.s == 't1' && datum.x == 255"}],"mark":{"type":"rule","stroke":"#d2d2d2","strokeWidth":6},"encoding":{"x":{"datum":-12.5},"x2":{"datum":257.1},"y":{"datum":12358}}},
{"transform":[{"filter":"datum.s == 't1' && datum.x == 255"}],"mark":{"type":"text","text":"Sum Signal","fontSize":40,"font":"Lato","align":"left","baseline":"middle","color":"black"},"encoding":{"x":{"datum":202.4},"y":{"datum":11100}}}
]},
{"data":{"name":"BL"},
"encoding":{
"x":{"field":"x","type":"quantitative","title":"Vector Index","scale":{"domain":[0,255],"range":[72.6,1122.2],"nice":false,"zero":false},"axis":{"orient":"bottom","offset":-35.7,"title":"Vector Index","values":[0,50,100,150,200,250],"format":"d","grid":false,"labelColor":"#555","labelFontSize":8,"titleFontSize":8.5,"titleFontWeight":"bold","titleColor":"#222","titlePadding":4,"labelPadding":3,"domainColor":"#8a8a8a","domainWidth":3,"tickColor":"#999","tickSize":3}},
"y":{"field":"y","type":"quantitative","title":"Bins ADC","scale":{"domain":[-844,17177],"range":[867.3,525.7],"nice":false,"zero":false},"axis":{"orient":"left","offset":-72.6,"title":"Bins ADC","values":[0,2000,4000,6000,8000,10000,12000,14000,16000],"format":"d","grid":true,"gridColor":"#5c5c5c","gridWidth":2.5,"labelColor":"#ff4848","labelFontSize":7.5,"titleFontSize":8,"titleFontWeight":"bold","titleColor":"#ff3030","titlePadding":7,"labelPadding":3,"domainColor":"#ff5050","domainWidth":1,"tickColor":"#999","tickSize":3}}
},
"layer":[
{"transform":[{"filter":"datum.s == 't1' && datum.x == 255"}],"mark":{"type":"rule","stroke":"#222","strokeWidth":1},"encoding":{"x":{"datum":50},"y":{"datum":-844},"y2":{"datum":17177}}},
{"transform":[{"filter":"datum.s == 't1' && datum.x == 255"}],"mark":{"type":"rule","stroke":"#222","strokeWidth":1},"encoding":{"x":{"datum":100},"y":{"datum":-844},"y2":{"datum":17177}}},
{"transform":[{"filter":"datum.s == 't1' && datum.x == 255"}],"mark":{"type":"rule","stroke":"#222","strokeWidth":1},"encoding":{"x":{"datum":150},"y":{"datum":-844},"y2":{"datum":17177}}},
{"transform":[{"filter":"datum.s == 't1' && datum.x == 255"}],"mark":{"type":"rule","stroke":"#222","strokeWidth":1},"encoding":{"x":{"datum":200},"y":{"datum":-844},"y2":{"datum":17177}}},
{"transform":[{"filter":"datum.s == 't1' && datum.x == 255"}],"mark":{"type":"rule","stroke":"#222","strokeWidth":1},"encoding":{"x":{"datum":250},"y":{"datum":-844},"y2":{"datum":17177}}},
{"mark":{"type":"line","interpolate":"monotone","strokeWidth":1.2},"encoding":{"color":{"field":"s","type":"nominal","legend":null,"scale":{"domain":["r","b","g","o","m","c","p","a","k","d","s","l","t1","t2"],"range":["#ff2020","#2020ff","#20dd20","#c8a030","#ff50ff","#20e0e0","#a030f0","#ffa020","#808080","#5a9040","#ff8080","#9090ff","#8050a0","#b05040"]}},"opacity":{"field":"s","type":"nominal","legend":null,"scale":{"domain":["r","b","g","o","m","c","p","a","k","d","s","l","t1","t2"],"range":[1,1,1,1,1,1,1,1,1,1,0.42,0.4,1,1]}}}},
{"mark":{"type":"line","interpolate":"monotone","strokeWidth":3.2,"strokeDash":[0,4.1],"strokeCap":"round"},"encoding":{"color":{"field":"s","type":"nominal","legend":null,"scale":{"domain":["r","b","g","o","m","c","p","a","k","d","s","l","t1","t2"],"range":["#ff2020","#2020ff","#20dd20","#c8a030","#ff50ff","#20e0e0","#a030f0","#ffa020","#808080","#5a9040","#ff8080","#9090ff","#8050a0","#b05040"]}},"opacity":{"field":"s","type":"nominal","legend":null,"scale":{"domain":["r","b","g","o","m","c","p","a","k","d","s","l","t1","t2"],"range":[1,1,1,1,1,1,1,1,1,1,0.42,0.4,1,1]}}}},
{"transform":[{"filter":"datum.s == 't1' && datum.x == 255"}],"mark":{"type":"rule","stroke":"#d2d2d2","strokeWidth":6},"encoding":{"x":{"datum":-12.3},"x2":{"datum":256},"y":{"datum":17794}}},
{"transform":[{"filter":"datum.s == 't1' && datum.x == 255"}],"mark":{"type":"text","text":"Diff. Signal","fontSize":40,"font":"Lato","align":"left","baseline":"middle","color":"black"},"encoding":{"x":{"datum":202.5},"y":{"datum":16208}}}
]}
]
},
{
"title":{"text":"Plasma","fontSize":38,"font":"Lato","fontWeight":"normal","color":"black","anchor":"middle","offset":6},
"width":1124,"height":903,
"view":{"stroke":"black","strokeWidth":4},
"resolve":{"scale":{"x":"independent","y":"independent"},"axis":{"x":"independent","y":"independent"}},
"layer":[
{"data":{"name":"TR"},
"encoding":{
"x":{"field":"x","type":"quantitative","title":"Vector Index","scale":{"domain":[0,255],"range":[52.3,1100.6],"nice":false,"zero":false},"axis":{"orient":"bottom","offset":-534,"title":"Vector Index","values":[0,50,100,150,200,250],"format":"d","grid":true,"gridColor":"#222","gridWidth":1,"labelColor":"#555","labelFontSize":8,"titleFontSize":8.5,"titleFontWeight":"bold","titleColor":"#222","titlePadding":4,"labelPadding":3,"domainColor":"#8a8a8a","domainWidth":3,"tickColor":"#999","tickSize":3}},
"y":{"field":"y","type":"quantitative","title":"Bins ADC","scale":{"domain":[-620,12885],"range":[369,27.3],"nice":false,"zero":false},"axis":{"orient":"left","offset":-52.3,"title":"Bins ADC","values":[0,2000,4000,6000,8000,10000,12000],"format":"d","grid":true,"gridColor":"#5c5c5c","gridWidth":2.5,"labelColor":"#ff4848","labelFontSize":7.5,"titleFontSize":8,"titleFontWeight":"bold","titleColor":"#ff3030","titlePadding":7,"labelPadding":3,"domainColor":"#ff5050","domainWidth":1,"tickColor":"#999","tickSize":3}}
},
"layer":[
{"mark":{"type":"line","interpolate":"monotone","strokeWidth":1.2},"encoding":{"color":{"field":"s","type":"nominal","legend":null,"scale":{"domain":["r","b","g","o","m","c","p","a","k","d","s","l","t1","t2"],"range":["#ff2020","#2020ff","#20dd20","#c8a030","#ff50ff","#20e0e0","#a030f0","#ffa020","#808080","#5a9040","#ff8080","#9090ff","#8050a0","#b05040"]}},"opacity":{"field":"s","type":"nominal","legend":null,"scale":{"domain":["r","b","g","o","m","c","p","a","k","d","s","l","t1","t2"],"range":[1,1,1,1,1,1,1,1,1,1,0.42,0.4,1,1]}}}},
{"mark":{"type":"line","interpolate":"monotone","strokeWidth":3.2,"strokeDash":[0,4.1],"strokeCap":"round"},"encoding":{"color":{"field":"s","type":"nominal","legend":null,"scale":{"domain":["r","b","g","o","m","c","p","a","k","d","s","l","t1","t2"],"range":["#ff2020","#2020ff","#20dd20","#c8a030","#ff50ff","#20e0e0","#a030f0","#ffa020","#808080","#5a9040","#ff8080","#9090ff","#8050a0","#b05040"]}},"opacity":{"field":"s","type":"nominal","legend":null,"scale":{"domain":["r","b","g","o","m","c","p","a","k","d","s","l","t1","t2"],"range":[1,1,1,1,1,1,1,1,1,1,0.42,0.4,1,1]}}}},
{"transform":[{"filter":"datum.s == 't2' && datum.x == 255"}],"mark":{"type":"rule","stroke":"#d2d2d2","strokeWidth":6},"encoding":{"x":{"datum":-12.7},"x2":{"datum":257.3},"y":{"datum":13174}}}
]},
{"data":{"name":"BR"},
"encoding":{
"x":{"field":"x","type":"quantitative","title":"Vector Index","scale":{"domain":[0,255],"range":[52.3,1100.6],"nice":false,"zero":false},"axis":{"orient":"bottom","offset":-35.7,"title":"Vector Index","values":[0,50,100,150,200,250],"format":"d","grid":true,"gridColor":"#222","gridWidth":1,"labelColor":"#555","labelFontSize":8,"titleFontSize":8.5,"titleFontWeight":"bold","titleColor":"#222","titlePadding":4,"labelPadding":3,"domainColor":"#8a8a8a","domainWidth":3,"tickColor":"#999","tickSize":3}},
"y":{"field":"y","type":"quantitative","title":"Bins ADC","scale":{"domain":[-844,17177],"range":[867.3,525.7],"nice":false,"zero":false},"axis":{"orient":"left","offset":-52.3,"title":"Bins ADC","values":[0,2000,4000,6000,8000,10000,12000,14000,16000],"format":"d","grid":true,"gridColor":"#5c5c5c","gridWidth":2.5,"labelColor":"#ff4848","labelFontSize":7.5,"titleFontSize":8,"titleFontWeight":"bold","titleColor":"#ff3030","titlePadding":7,"labelPadding":3,"domainColor":"#ff5050","domainWidth":1,"tickColor":"#999","tickSize":3}}
},
"layer":[
{"mark":{"type":"line","interpolate":"monotone","strokeWidth":1.2},"encoding":{"color":{"field":"s","type":"nominal","legend":null,"scale":{"domain":["r","b","g","o","m","c","p","a","k","d","s","l","t1","t2"],"range":["#ff2020","#2020ff","#20dd20","#c8a030","#ff50ff","#20e0e0","#a030f0","#ffa020","#808080","#5a9040","#ff8080","#9090ff","#8050a0","#b05040"]}},"opacity":{"field":"s","type":"nominal","legend":null,"scale":{"domain":["r","b","g","o","m","c","p","a","k","d","s","l","t1","t2"],"range":[1,1,1,1,1,1,1,1,1,1,0.42,0.4,1,1]}}}},
{"mark":{"type":"line","interpolate":"monotone","strokeWidth":3.2,"strokeDash":[0,4.1],"strokeCap":"round"},"encoding":{"color":{"field":"s","type":"nominal","legend":null,"scale":{"domain":["r","b","g","o","m","c","p","a","k","d","s","l","t1","t2"],"range":["#ff2020","#2020ff","#20dd20","#c8a030","#ff50ff","#20e0e0","#a030f0","#ffa020","#808080","#5a9040","#ff8080","#9090ff","#8050a0","#b05040"]}},"opacity":{"field":"s","type":"nominal","legend":null,"scale":{"domain":["r","b","g","o","m","c","p","a","k","d","s","l","t1","t2"],"range":[1,1,1,1,1,1,1,1,1,1,0.42,0.4,1,1]}}}},
{"transform":[{"filter":"datum.s == 't2' && datum.x == 255"}],"mark":{"type":"rule","stroke":"#d2d2d2","strokeWidth":6},"encoding":{"x":{"datum":-12.5},"x2":{"datum":256.8},"y":{"datum":17794}}}
]}
]
}
],
"spacing":24,
"bounds":"flush"
}
